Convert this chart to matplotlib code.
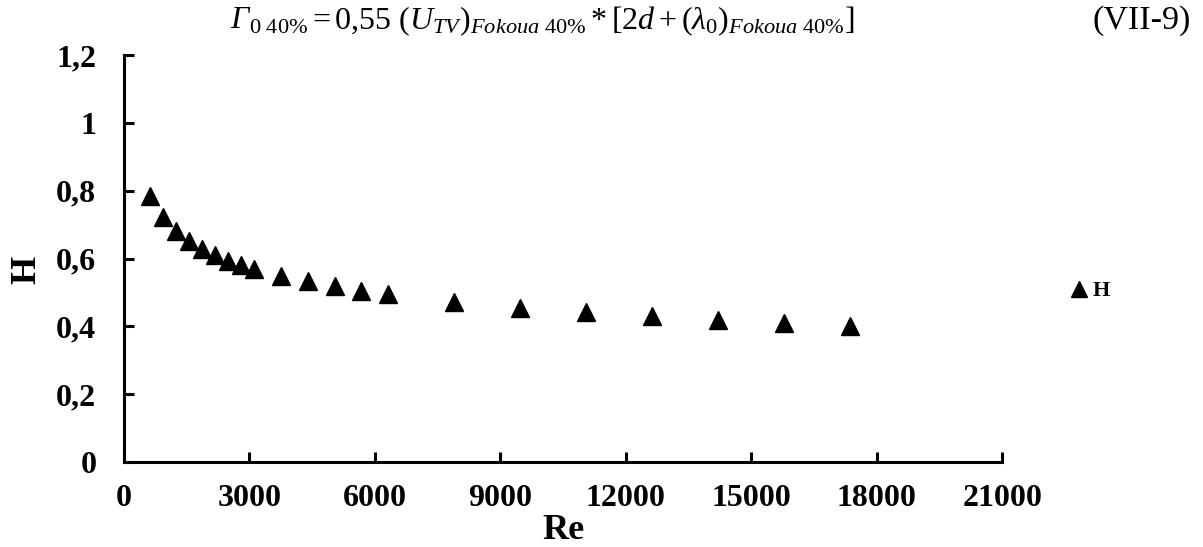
import matplotlib.pyplot as plt
from matplotlib.ticker import FuncFormatter

# data
re_vals = [622, 932, 1243, 1554, 1865, 2175, 2486, 2797, 3108, 3753,
           4398, 5044, 5665, 6311, 7888, 9466, 11044, 12621, 14199, 15777, 17354]
h_vals = [0.785, 0.723, 0.681, 0.653, 0.628, 0.609, 0.594, 0.580, 0.568, 0.548,
          0.533, 0.518, 0.505, 0.494, 0.472, 0.455, 0.442, 0.430, 0.419, 0.411, 0.401]
x_ticks = [0, 3000, 6000, 9000, 12000, 15000, 18000, 21000]
y_ticks = [0, 0.2, 0.4, 0.6, 0.8, 1.0, 1.2]

plt.rcParams['font.family'] = 'Liberation Serif'
plt.rcParams['mathtext.fontset'] = 'custom'
plt.rcParams['mathtext.rm'] = 'Liberation Serif'
plt.rcParams['mathtext.it'] = 'Liberation Serif:italic'
plt.rcParams['mathtext.bf'] = 'Liberation Serif:bold'

fig = plt.figure(figsize=(12.03, 5.47), dpi=100)
ax = fig.add_axes([0.1031, 0.1554, 0.7299, 0.744])

ax.plot(re_vals, h_vals, linestyle='none', marker='^', markersize=13,
        color='black', label='H')

ax.set_xlim(0, 21000)
ax.set_ylim(0, 1.2)
ax.set_xticks(x_ticks)
ax.set_yticks(y_ticks)
ax.yaxis.set_major_formatter(FuncFormatter(
    lambda v, _: ('%g' % round(v, 1)).replace('.', ',')))

for side in ['top', 'right']:
    ax.spines[side].set_visible(False)
for side in ['left', 'bottom']:
    ax.spines[side].set_linewidth(2.2)
ax.tick_params(axis='both', direction='in', length=7, width=2.2,
               labelsize=23)
ax.tick_params(axis='x', pad=16)
ax.tick_params(axis='y', pad=20)
for lbl in ax.get_xticklabels() + ax.get_yticklabels():
    lbl.set_fontweight('bold')

ax.set_xlabel('Re', fontsize=26, fontweight='bold')
ax.xaxis.set_label_coords(0.5, -0.128)
ax.set_ylabel('H', fontsize=26, fontweight='bold')
ax.yaxis.set_label_coords(-0.092, 0.472)

ax.legend(loc='center left', bbox_to_anchor=(0.875, 0.468),
          bbox_transform=fig.transFigure, frameon=False,
          prop={'size': 16, 'weight': 'bold'},
          markerscale=0.9, handlelength=0.6, handletextpad=0.3)

# equation text cut from the document page above the chart
fig.text(0.191, 0.962, '\u0393', fontsize=23, style='italic',
         ha='left', va='center')
fig.text(0.207, 0.962,
         r'$_{0\ 40\%} = 0{,}55\ (U_{TV})_{Fokoua\ 40\%} * [2d + (\lambda_0)_{Fokoua\ 40\%}]$',
         fontsize=23, ha='left', va='center')
fig.text(0.99, 0.962, '(VII-9)', fontsize=24.5, ha='right', va='center')

plt.savefig('out.png', dpi=100)
plt.close()
